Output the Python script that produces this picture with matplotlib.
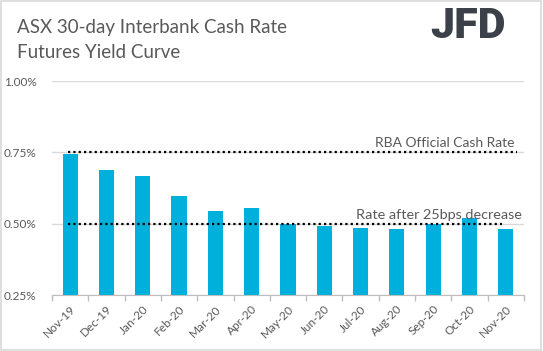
import numpy as np
import matplotlib.pyplot as plt
from matplotlib.patches import Rectangle

# datos
meses = ['Nov-19', 'Dec-19', 'Jan-20', 'Feb-20', 'Mar-20', 'Apr-20', 'May-20',
         'Jun-20', 'Jul-20', 'Aug-20', 'Sep-20', 'Oct-20', 'Nov-20']
rendimiento = [0.744, 0.688, 0.667, 0.597, 0.544, 0.555, 0.500,
               0.492, 0.485, 0.481, 0.500, 0.520, 0.481]
tasa_rba = 0.75
tasa_recorte = 0.50
yticks = [0.25, 0.50, 0.75, 1.00]

plt.rcParams['font.family'] = ['Lato', 'DejaVu Sans']
gris = '#595959'

fig = plt.figure(figsize=(5.43, 3.51), dpi=100)
fig.patches.append(Rectangle((0.002, 0.003), 0.995, 0.994, transform=fig.transFigure,
                             fill=False, edgecolor='#d9d9d9', linewidth=1.2))

ax = fig.add_axes([0.0958, 0.1595, 0.869, 0.6095])
x = np.arange(len(meses))
ax.bar(x, rendimiento, width=0.42, color='#00b0dc', zorder=2, bottom=0)

# lineas punteadas (tasas de referencia)
ax.plot([-0.05, 12.3], [tasa_rba, tasa_rba], linestyle=(0, (1, 1.4)), color='black',
        linewidth=1.6, zorder=3)
ax.plot([-0.05, 11.9], [tasa_recorte, tasa_recorte], linestyle=(0, (1, 1.4)), color='black',
        linewidth=1.6, zorder=3)
ax.text(12.25, tasa_rba + 0.012, 'RBA Official Cash Rate', ha='right', va='bottom',
        fontsize=10, color=gris, zorder=4)
ax.text(12.45, tasa_recorte + 0.01, 'Rate after 25bps decrease', ha='right', va='bottom',
        fontsize=10.4, color=gris, zorder=4)

ax.set_ylim(0.25, 1.0)
ax.set_xlim(-0.5, len(meses) - 0.5)
ax.set_yticks(yticks)
ax.set_yticklabels([f'{v:.2f}%' for v in yticks])
ax.yaxis.grid(True, color='#d9d9d9', linewidth=1, zorder=0)
ax.tick_params(axis='y', length=0, pad=11, labelsize=8.5, labelcolor=gris)

ax.set_xticks(x)
ax.set_xticklabels(meses, rotation=45, ha='right', rotation_mode='anchor')
ax.tick_params(axis='x', length=0, labelsize=8.5, labelcolor=gris, pad=6)
ax.set_xticks(np.arange(-0.5, len(meses)), minor=True)
ax.tick_params(axis='x', which='minor', length=4, color='#bfbfbf', width=1)

for lado in ['top', 'right', 'left']:
    ax.spines[lado].set_visible(False)
ax.spines['bottom'].set_color('#bfbfbf')

fig.text(0.031, 0.922, 'ASX 30-day Interbank Cash Rate', fontsize=13.5, color=gris,
         va='center', ha='left')
fig.text(0.031, 0.851, 'Futures Yield Curve', fontsize=13.5, color=gris,
         va='center', ha='left')
fig.text(0.931, 0.925, 'JFD', fontsize=31, fontweight='heavy', color='#3b4049',
         va='center', ha='right', family=['Roboto', 'DejaVu Sans'])

fig.savefig('out.png', dpi=100)
